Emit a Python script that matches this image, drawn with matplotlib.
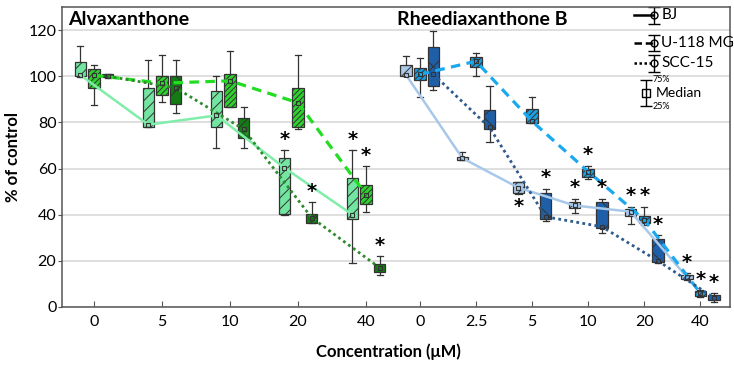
import numpy as np
import matplotlib
matplotlib.use('Agg')
import matplotlib.pyplot as plt

plt.rcParams['font.family'] = ['Lato', 'DejaVu Sans']
plt.rcParams['hatch.linewidth'] = 0.7

# concentrations (tick labels) for the two compounds
alva_conc = ['0', '5', '10', '20', '40']
rhee_conc = ['0', '2.5', '5', '10', '20', '40']

# Alvaxanthone - q1, median, q3, whisker low, whisker high
bj_alva_q1 = [100, 78, 78, 40.3, 38]
bj_alva_med = [100.5, 79, 83, 60.3, 40]
bj_alva_q3 = [106, 95, 93.5, 64.7, 56]
bj_alva_lo = [99.5, 78, 69, 40, 19]
bj_alva_hi = [113, 107, 100, 68, 68]

u_alva_q1 = [95, 92, 86.5, 78, 44.8]
u_alva_med = [100.4, 97, 98, 88.5, 48.7]
u_alva_q3 = [103, 100, 101, 95, 52.7]
u_alva_lo = [87.4, 89, 86.5, 77, 41]
u_alva_hi = [105, 109, 111, 109, 61]

scc_alva_q1 = [99.5, 88, 73.4, 36.6, 15.2]
scc_alva_med = [100, 95, 77, 38.7, 17]
scc_alva_q3 = [100.8, 100, 82, 40.4, 18.7]
scc_alva_lo = [99.3, 84, 69, 36.5, 14]
scc_alva_hi = [101, 107, 86.5, 45.6, 22]

# Rheediaxanthone B
bj_rhee_q1 = [100, 63.5, 49.5, 43, 39.6, 12]
bj_rhee_med = [100.5, 64.5, 51.7, 44, 41.3, 13]
bj_rhee_q3 = [105, 65.2, 54, 45.3, 42.5, 14]
bj_rhee_lo = [100, 63.5, 49, 40.8, 36, 11.6]
bj_rhee_hi = [108.7, 67, 54, 47, 43.5, 14.8]

u_rhee_q1 = [98.3, 104, 79.6, 56.5, 36.5, 4.8]
u_rhee_med = [100.8, 106.5, 80.5, 58.7, 37.8, 6]
u_rhee_q3 = [103.5, 108.4, 85.6, 60, 39.6, 7]
u_rhee_lo = [91, 100, 79.6, 55.6, 35.7, 4.5]
u_rhee_hi = [108, 110, 90.8, 61.3, 43.5, 7.3]

scc_rhee_q1 = [95.6, 77, 38.2, 34.3, 19.6, 3]
scc_rhee_med = [100.8, 77.8, 39.1, 34.8, 20, 4]
scc_rhee_q3 = [112.6, 85.2, 49.6, 45.6, 29.6, 5.2]
scc_rhee_lo = [94, 71.3, 37.4, 32, 19, 2.2]
scc_rhee_hi = [119.5, 95.6, 51.3, 47, 31, 6]

# significance stars: index of concentration, +1 above / -1 below
bj_alva_star = {3: 1, 4: 1}
u_alva_star = {4: 1}
scc_alva_star = {3: 1, 4: 1}
bj_rhee_star = {2: -1, 3: 1, 4: 1, 5: 1}
u_rhee_star = {3: 1, 4: 1, 5: 1}
scc_rhee_star = {2: 1, 3: 1, 4: 1, 5: 1}

# layout: category centres along the x axis
alva_pos = np.arange(len(alva_conc)) * 1.0
rhee_pos = 4.79 + 0.825 * np.arange(len(rhee_conc))
offs = 0.2
bw = 0.17
edge = '#333333'

fig = plt.figure(figsize=(7.34, 3.72), dpi=100)
ax = fig.add_axes([62 / 734, 65 / 372, 668 / 734, 300 / 372])


def draw_series(pos, q1, med, q3, lo, hi, face, hatch, lcolor, ls, lw, stars):
    stats = [dict(med=m, q1=a, q3=b, whislo=l, whishi=h)
             for a, m, b, l, h in zip(q1, med, q3, lo, hi)]
    ax.bxp(stats, positions=pos, widths=bw, patch_artist=True, showfliers=False,
           manage_ticks=False, capwidths=0.09,
           boxprops=dict(facecolor=face, edgecolor=edge, hatch=hatch, linewidth=0.9),
           whiskerprops=dict(color=edge, linewidth=0.9),
           capprops=dict(color=edge, linewidth=0.9),
           medianprops=dict(linewidth=0), zorder=2)
    ax.plot(pos, med, color=lcolor, linestyle=ls, linewidth=lw, zorder=3)
    ax.plot(pos, med, 's', mfc='none', mec=edge, ms=3.5, mew=0.8, zorder=4)
    for i, d in stars.items():
        if d > 0:
            ax.text(pos[i], hi[i] + 0.5, '*', ha='center', va='bottom',
                    fontsize=14, fontweight='bold', family='DejaVu Sans')
        else:
            ax.text(pos[i], lo[i] - 9.5, '*', ha='center', va='bottom',
                    fontsize=14, fontweight='bold', family='DejaVu Sans')


draw_series(alva_pos - offs, bj_alva_q1, bj_alva_med, bj_alva_q3, bj_alva_lo, bj_alva_hi,
            '#72e6a0', '///', '#80eeaa', '-', 1.8, bj_alva_star)
draw_series(alva_pos, u_alva_q1, u_alva_med, u_alva_q3, u_alva_lo, u_alva_hi,
            '#2fd12f', '//////', '#22dd22', (0, (3, 2)), 2.3, u_alva_star)
draw_series(alva_pos + offs, scc_alva_q1, scc_alva_med, scc_alva_q3, scc_alva_lo, scc_alva_hi,
            '#147a14', 'x', '#2e8b2e', (0, (1, 1.2)), 2.0, scc_alva_star)

draw_series(rhee_pos - offs, bj_rhee_q1, bj_rhee_med, bj_rhee_q3, bj_rhee_lo, bj_rhee_hi,
            '#aac8e8', '///', '#a8c8ea', '-', 1.8, bj_rhee_star)
draw_series(rhee_pos, u_rhee_q1, u_rhee_med, u_rhee_q3, u_rhee_lo, u_rhee_hi,
            '#1a9fe0', '//////', '#1aa8ee', (0, (3, 2)), 2.3, u_rhee_star)
draw_series(rhee_pos + offs, scc_rhee_q1, scc_rhee_med, scc_rhee_q3, scc_rhee_lo, scc_rhee_hi,
            '#1f5fa8', 'x', '#2e5a8c', (0, (1, 1.2)), 2.0, scc_rhee_star)

ax.set_xlim(-0.47, 9.35)
ax.set_ylim(0, 130)
ax.set_yticks(np.arange(0, 121, 20))
ax.set_xticks(np.concatenate([alva_pos, rhee_pos]))
ax.set_xticklabels(alva_conc + rhee_conc)
ax.yaxis.grid(True, color='#d9d9d9', linewidth=1.2)
ax.set_axisbelow(True)
ax.tick_params(axis='x', direction='in', length=4, labelsize=11.5, color='#555555', pad=6)
ax.tick_params(axis='y', direction='out', length=3, labelsize=11.5, color='#555555', pad=1)
for s in ax.spines.values():
    s.set_color('#555555')
    s.set_linewidth(1.1)

ax.set_ylabel('% of control', fontsize=12, fontweight='bold', labelpad=5)
fig.text(388 / 734, 1 - 352 / 372, 'Concentration (μM)', ha='center', va='center',
         fontsize=12, fontweight='bold')

ax.text(0.009, 0.957, 'Alvaxanthone', transform=ax.transAxes, fontsize=14,
        fontweight='bold', va='center', ha='left')
ax.text(0.501, 0.957, 'Rheediaxanthone B', transform=ax.transAxes, fontsize=14,
        fontweight='bold', va='center', ha='left')

# hand-made legend in axes coordinates
leg_labels = ['BJ', 'U-118 MG', 'SCC-15']
leg_styles = ['-', (0, (3, 1.5)), (0, (1, 1))]
leg_y = [0.973, 0.88, 0.813]
for lab, ls, yy in zip(leg_labels, leg_styles, leg_y):
    ax.plot([0.856, 0.884], [yy, yy], color='black', linestyle=ls, lw=1.8,
            transform=ax.transAxes, clip_on=False)
    ax.errorbar([0.886], [yy], yerr=[[0.028], [0.028]], fmt='o', mfc='none', mec='black',
                ms=5, ecolor='black', elinewidth=1, capsize=4, transform=ax.transAxes)
    ax.text(0.897, yy, lab, transform=ax.transAxes, fontsize=11, va='center', ha='left')

ax.errorbar([0.874], [0.713], yerr=[[0.043], [0.043]], fmt='s', mfc='none', mec='black',
            ms=6, ecolor='black', elinewidth=1, capsize=4, transform=ax.transAxes)
ax.text(0.884, 0.757, '75%', transform=ax.transAxes, fontsize=6.5, va='center', ha='left')
ax.text(0.889, 0.713, 'Median', transform=ax.transAxes, fontsize=10, va='center', ha='left')
ax.text(0.884, 0.668, '25%', transform=ax.transAxes, fontsize=6.5, va='center', ha='left')

fig.savefig('out.png', dpi=100)
